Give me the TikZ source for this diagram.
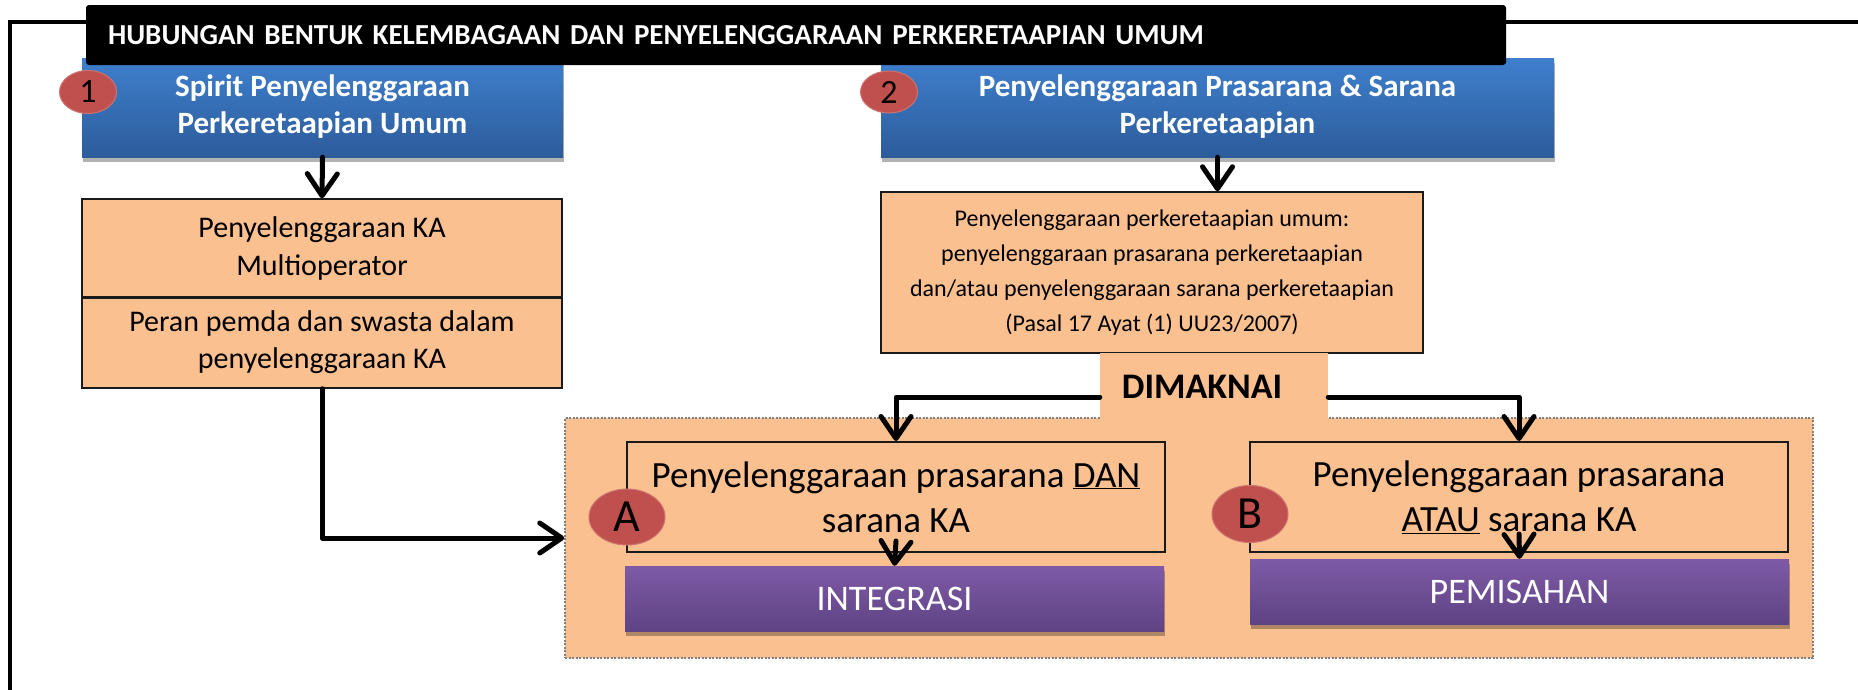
\documentclass[tikz,border=0pt]{standalone}
\usepackage{fontspec}
\setmainfont{Carlito}
\usetikzlibrary{arrows.meta,shapes.geometric,shadows,calc}
\definecolor{peach}{HTML}{FAC090}
\definecolor{bluetop}{HTML}{3F7FCE}
\definecolor{bluebot}{HTML}{2C5C9A}
\definecolor{purtop}{HTML}{7E5AA6}
\definecolor{purbot}{HTML}{5E4384}
\definecolor{badgered}{HTML}{C0504D}
\definecolor{dotgray}{HTML}{7F7F7F}
\definecolor{boxline}{HTML}{1A1A1A}
\begin{document}
\begin{tikzpicture}[x=1pt,y=-1pt,
  conn/.style={line width=5pt, line cap=round, line join=round,
    -{Straight Barb[length=22pt,width=30pt,line width=5pt,round]}},
  softshadow/.style={drop shadow={shadow xshift=1pt,shadow yshift=-5pt,opacity=0.3,fill=black}},
  bluebox/.style={rectangle, top color=bluetop, bottom color=bluebot, draw=none,
    text=white, font=\bfseries\fontsize{31}{38}\selectfont, align=center, inner sep=0pt, softshadow},
  orangebox/.style={rectangle, fill=peach, draw=boxline, line width=1.5pt, align=center, inner sep=0pt},
  purplebox/.style={rectangle, top color=purtop, bottom color=purbot, draw=none,
    text=white, font=\fontsize{36}{44}\selectfont, inner sep=0pt, softshadow},
  badge/.style={ellipse, fill=badgered, draw=badgered!80!white, line width=1pt, inner sep=0pt, text=black},
  titlebox/.style={rectangle, rounded corners=3pt, fill=black, text=white,
    font=\bfseries\fontsize{29}{35}\selectfont, inner xsep=22pt, inner ysep=0pt, align=left}
]
\useasboundingbox (0,0) rectangle (1858,689);
\clip (0,0) rectangle (1858,689);
% outer frame
\draw[line width=4.5pt] (10,22) rectangle (1875,705);

% blue headers
\node[bluebox, minimum width=481pt, minimum height=99pt] (blue1) at (322.5,107.5)
  {\raisebox{-3pt}{\begin{tabular}{@{}c@{}}Spirit Penyelenggaraan\\[-0.5pt]Perkeretaapian Umum\end{tabular}}};
\node[bluebox, minimum width=673pt, minimum height=99pt] (blue2) at (1217.5,107.5)
  {\raisebox{-3pt}{\begin{tabular}{@{}c@{}}Penyelenggaraan Prasarana \& Sarana\\[-0.5pt]Perkeretaapian\end{tabular}}};

% title
\node[titlebox, minimum width=1420pt, minimum height=60pt, text width=1376pt] (title) at (796,35)
  {HUBUNGAN BENTUK KELEMBAGAAN DAN PENYELENGGARAAN PERKERETAAPIAN UMUM};

% badges 1, 2
\node[badge, minimum width=57pt, minimum height=43pt, font=\fontsize{34}{40}\selectfont] (b1) at (88,92) {1};
\node[badge, minimum width=57pt, minimum height=42pt, font=\fontsize{34}{40}\selectfont] (b2) at (889,92) {2};

% left orange box
\node[orangebox, minimum width=480pt, minimum height=98pt, font=\fontsize{30}{38}\selectfont] (o1a) at (322,248)
  {Penyelenggaraan KA\\Multioperator};
\node[orangebox, minimum width=480pt, minimum height=91pt, font=\fontsize{30}{37}\selectfont] (o1b) at (322,342.5)
  {Peran pemda dan swasta dalam\\penyelenggaraan KA};
\draw[line width=3pt, draw=boxline] (o1a.south west) -- (o1a.south east);

% right orange box
\node[orangebox, minimum width=542pt, minimum height=161pt, font=\fontsize{24}{35}\selectfont] (o2) at (1152,272.5)
  {Penyelenggaraan perkeretaapian umum:\\penyelenggaraan prasarana perkeretaapian\\dan/atau penyelenggaraan sarana perkeretaapian\\(Pasal 17 Ayat (1) UU23/2007)};

% container
\node[rectangle, fill=peach, draw=dotgray, line width=1.5pt, dash pattern=on 2pt off 1.5pt,
  minimum width=1248pt, minimum height=240pt, inner sep=0pt] (cont) at (1189,538) {};

% DIMAKNAI
\node[rectangle, fill=peach, draw=none, minimum width=228pt, minimum height=67pt, inner sep=0pt,
  font=\bfseries\fontsize{36}{40}\selectfont] (dim) at (1214,386.5) {\hspace*{-24pt}DIMAKNAI};

% boxes A and B
\node[orangebox, line width=2pt, minimum width=538pt, minimum height=110pt, font=\fontsize{37}{45}\selectfont] (boxA) at (896,497)
  {Penyelenggaraan prasarana \underline{DAN}\\sarana KA};
\node[orangebox, line width=2pt, minimum width=538pt, minimum height=110pt, font=\fontsize{37}{45}\selectfont] (boxB) at (1519,497)
  {Penyelenggaraan prasarana\\\underline{ATAU} sarana KA};

% purple results
\node[purplebox, minimum width=539pt, minimum height=65pt] (integ) at (894.5,598.5) {INTEGRASI};
\node[purplebox, minimum width=539pt, minimum height=65pt] (pemis) at (1519.5,591.5) {PEMISAHAN};

% badges A, B
\node[badge, minimum width=76pt, minimum height=56pt, font=\fontsize{46}{50}\selectfont] (bA) at (627,517) {A};
\node[badge, minimum width=76pt, minimum height=57pt, font=\fontsize{46}{50}\selectfont] (bB) at (1250,514) {B};

% connectors
\draw[conn] (blue1.south) -- (o1a.north);
\draw[conn] (blue2.south) -- (blue2.south |- o2.north);
\draw[conn] (o1b.south) |- (cont.west);
\draw[conn] ([yshift=-10.5pt]dim.west) -| (boxA.north);
\draw[conn] ([yshift=-10.5pt]dim.east) -| (boxB.north);
\draw[conn] ([yshift=12pt]boxA.south) -- (integ.north);
\draw[conn] ([yshift=19pt]boxB.south) -- (pemis.north);
\end{tikzpicture}
\end{document}
